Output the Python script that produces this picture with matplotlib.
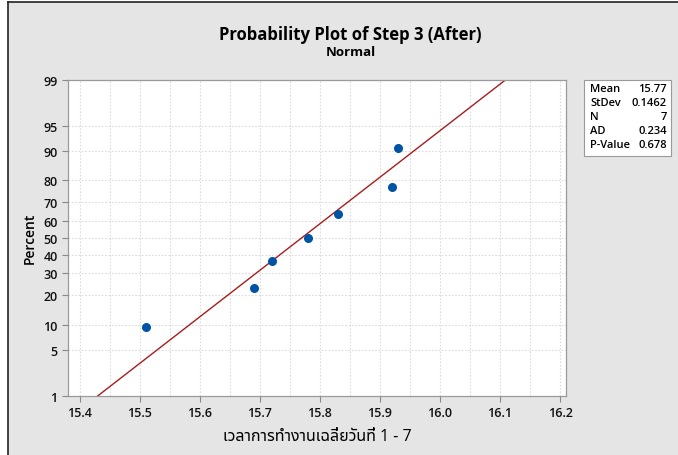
import numpy as np
import matplotlib
matplotlib.use('Agg')
import matplotlib.pyplot as plt
from matplotlib.patches import Rectangle
from matplotlib.lines import Line2D
from statistics import NormalDist

# data
hours = [15.51, 15.69, 15.72, 15.78, 15.83, 15.92, 15.93]
percent = [9.46, 22.97, 36.49, 50.0, 63.51, 77.03, 90.54]
y_ticks = [1, 5, 10, 20, 30, 40, 50, 60, 70, 80, 90, 95, 99]
x_ticks = [15.4, 15.5, 15.6, 15.7, 15.8, 15.9, 16.0, 16.1, 16.2]
stat_names = ["Mean", "StDev", "N", "AD", "P-Value"]
stat_values = ["15.77", "0.1462", "7", "0.234", "0.678"]
mean = 15.77
stdev = 0.1462

nd = NormalDist()
def z(p):
    return nd.inv_cdf(p / 100.0)

plt.rcParams['font.family'] = ['Open Sans', 'Noto Sans Thai UI', 'DejaVu Sans']

fig = plt.figure(figsize=(6.78, 4.56), dpi=100)
fig.patch.set_facecolor('white')
bg = '#e5e5e5'
# grey panel with dark border on left/top
fig.patches.append(Rectangle((8 / 678, 0), 1, 1 - 3 / 456, transform=fig.transFigure,
                             facecolor=bg, edgecolor='none', zorder=-10))
fig.lines.append(Line2D([8 / 678, 8 / 678], [0, 1 - 3 / 456], transform=fig.transFigure,
                        color='#222222', lw=1.2))
fig.lines.append(Line2D([8 / 678, 1], [1 - 3 / 456, 1 - 3 / 456], transform=fig.transFigure,
                        color='#222222', lw=1.2))

ax = fig.add_axes([68 / 678, 1 - 397 / 456, (566 - 68) / 678, (397 - 80.5) / 456])
ax.set_facecolor('white')

ylo, yhi = z(1), z(99)
ax.set_xlim(15.3805, 16.21)
ax.set_ylim(ylo, yhi)

# grid
for gx in np.arange(15.4, 16.21, 0.05):
    ax.axvline(gx, color='#dcdcdc', lw=0.8, ls=(0, (1.5, 1.5)), zorder=0)
for p in y_ticks[1:-1]:
    ax.axhline(z(p), color='#dcdcdc', lw=0.8, ls=(0, (1.5, 1.5)), zorder=0)

# fitted line
line_y = np.array([ylo, yhi])
ax.plot(mean + stdev * line_y, line_y, color='#a81c1c', lw=1.0, zorder=2)

ax.scatter(hours, [z(p) for p in percent], s=30, color='#0054a6', zorder=3)

ax.set_yticks([z(p) for p in y_ticks])
ax.set_yticklabels([str(p) for p in y_ticks])
ax.set_xticks(x_ticks)
ax.set_xticklabels(["%.1f" % v for v in x_ticks])
ax.tick_params(axis='both', colors='#888888', labelcolor='#111111', labelsize=9,
               length=4, width=0.8)
for lab in ax.get_xticklabels() + ax.get_yticklabels():
    lab.set_fontweight('semibold')
for s in ax.spines.values():
    s.set_color('#9a9a9a')
    s.set_linewidth(0.9)

ax.set_ylabel("Percent", fontsize=10, fontweight='semibold', labelpad=5)
ax.set_xlabel("เวลาการทำงานเฉลี่ยวันที่ 1 - 7", fontsize=11.5,
              family=['Noto Sans Thai UI', 'Open Sans', 'DejaVu Sans'], labelpad=6)

fig.text(0.517, 1 - 35 / 456, "Probability Plot of Step 3 (After)", ha='center', va='center',
         fontsize=12, fontweight='bold')
fig.text(0.517, 1 - 53 / 456, "Normal", ha='center', va='center',
         fontsize=9.5, fontweight='bold')

# stats box
fig.patches.append(Rectangle((584 / 678, 1 - 157 / 456), 87 / 678, 76 / 456,
                             transform=fig.transFigure, facecolor='white',
                             edgecolor='#9a9a9a', lw=0.8))
for i, (n, v) in enumerate(zip(stat_names, stat_values)):
    yy = 1 - (90 + i * 14) / 456
    fig.text(590 / 678, yy, n, ha='left', va='center', fontsize=8, fontweight='semibold')
    fig.text(667 / 678, yy, v, ha='right', va='center', fontsize=8, fontweight='semibold')

fig.savefig('out.png', dpi=100, facecolor=fig.get_facecolor())
